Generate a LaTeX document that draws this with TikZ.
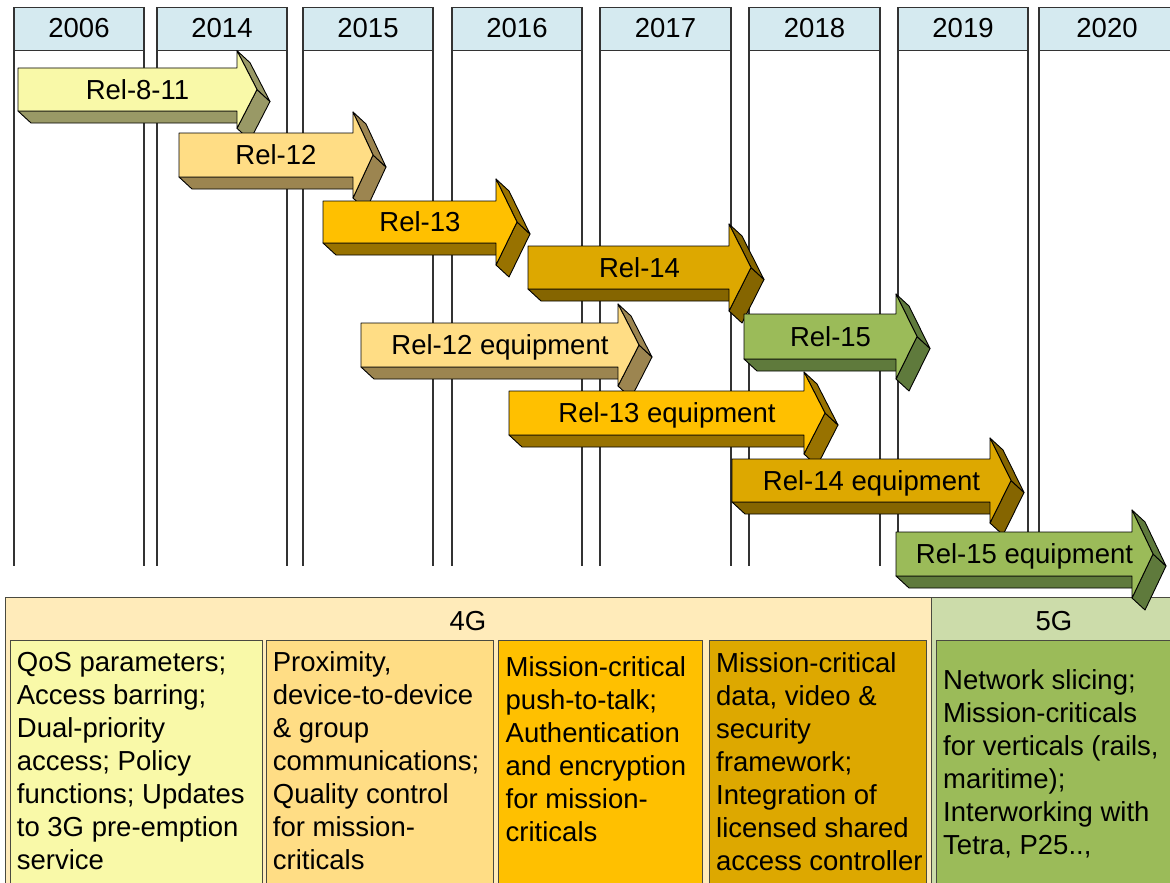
\documentclass[tikz,border=0pt]{standalone}
\usepackage{fontspec}
\setmainfont{Liberation Sans}
\definecolor{hdr}{HTML}{D5EAF0}
\definecolor{aF}{HTML}{F9F9A8}\definecolor{aD}{HTML}{999966}
\definecolor{bF}{HTML}{FFDD85}\definecolor{bD}{HTML}{9C8550}
\definecolor{cF}{HTML}{FFC000}\definecolor{cD}{HTML}{987200}
\definecolor{dF}{HTML}{DDA800}\definecolor{dD}{HTML}{856500}
\definecolor{eF}{HTML}{9BBB59}\definecolor{eD}{HTML}{5F7A3C}
\definecolor{fourG}{HTML}{FFEBBA}
\definecolor{fiveG}{HTML}{CCDCAA}
\definecolor{edgec}{HTML}{4A4A40}
\tikzset{
  coledge/.style={draw=black!80,line width=1.1pt},
  boxedge/.style={draw=edgec,line width=1pt},
  arrowedge/.style={draw=black,line width=0.9pt,line join=round},
  bigtext/.style={font=\fontsize{27.5}{33}\selectfont,inner sep=0pt},
  arrowtext/.style={bigtext,anchor=base},
  boxtext/.style={bigtext,align=left,anchor=north west},
}
\newcommand\relarrow[9]{%
  \pgfmathsetmacro\ryc{(#3+#4)/2}%
  \pgfmathsetmacro\ryhb{2*\ryc-#6}%
  \pgfmathsetmacro\rxm{(#2+#7)/2}%
  \filldraw[arrowedge,fill=#8D] (#2,#4) -- (#5,#4) -- ({#5+13},{#4+12}) -- ({#2+13},{#4+12}) -- cycle;
  \filldraw[arrowedge,fill=#8D] (#7,\ryc) -- (#5,\ryhb) -- ({#5+13},{\ryhb+12}) -- ({#7+13},{\ryc+12}) -- cycle;
  \filldraw[arrowedge,fill=#8D] (#5,#6) -- (#7,\ryc) -- ({#7+13},{\ryc+12}) -- ({#5+13},{#6+12}) -- cycle;
  \filldraw[arrowedge,fill=#8F] (#2,#3) -- (#5,#3) -- (#5,#6) -- (#7,\ryc) -- (#5,\ryhb) -- (#5,#4) -- (#2,#4) -- cycle;
  \node[arrowtext] (#1) at (\rxm,{\ryc+9.8}) {#9};
}
\begin{document}
\begin{tikzpicture}[x=1pt,y=-1pt]
\useasboundingbox (0,0) rectangle (1170,883);
\clip (0,0) rectangle (1170,883);
\fill[white] (0,0) rectangle (1170,883);
% year columns
\foreach \l/\r/\yr/\tx in {14/144/2006/79,157/287/2014/222,303/433/2015/368,452/582/2016/517,600/731/2017/665.5,749/880/2018/814.5,898/1028/2019/963,1039/1178/2020/1107}{
  \filldraw[coledge,fill=hdr] (\l,7.3) rectangle (\r,50.7);
  \draw[coledge] (\l,50.7) -- (\l,566);
  \draw[coledge] (\r,50.7) -- (\r,566);
  \node[arrowtext] (y\yr) at (\tx,37.5) {\yr};
}
% generation boxes
\filldraw[boxedge,fill=fourG] (5,597) rectangle (931,900);
\filldraw[boxedge,fill=fiveG] (931,597) rectangle (1180,900);
\node[arrowtext] (g4) at (468,630) {4G};
\node[arrowtext] (g5) at (1054,630.5) {5G};
\filldraw[boxedge,fill=aF] (10,640) rectangle (262,900);
\filldraw[boxedge,fill=bF] (266,640) rectangle (493,900);
\filldraw[boxedge,fill=cF] (498.5,640) rectangle (702.6,900);
\filldraw[boxedge,fill=dF] (709,640) rectangle (926.5,900);
\filldraw[boxedge,fill=eF] (936,640) rectangle (1180,900);
\node[boxtext] (t1) at (16.7,651.7) {QoS parameters;\\Access barring;\\Dual-priority\\access; Policy\\functions; Updates\\to 3G pre-emption\\service};
\node[boxtext] (t2) at (272.7,651.7) {Proximity,\\device-to-device\\\& group\\communications;\\Quality control\\for mission-\\criticals};
\node[boxtext] (t3) at (505.5,656.7) {Mission-critical\\push-to-talk;\\Authentication\\and encryption\\for mission-\\criticals};
\node[boxtext] (t4) at (716,652.7) {Mission-critical\\data, video \&\\security\\framework;\\Integration of\\licensed shared\\access controller};
\node[boxtext] (t5) at (943,669.3) {Network slicing;\\Mission-criticals\\for verticals (rails,\\maritime);\\Interworking with\\Tetra, P25..,};
% release arrows
\relarrow{r811}{18}{68}{111}{237}{50.7}{257}{a}{Rel-8-11}
\relarrow{r12}{179}{133}{177}{353}{112}{373}{b}{Rel-12}
\relarrow{r13}{323}{201}{243}{496}{179}{517}{c}{Rel-13}
\relarrow{r14}{528}{246}{289}{729}{224}{751}{d}{Rel-14}
\relarrow{r15}{744}{314}{359}{896}{294}{917}{e}{Rel-15}
\relarrow{e12}{361}{323}{367}{618}{304}{639}{b}{Rel-12 equipment}
\relarrow{e13}{509}{391}{435}{804}{372}{825}{c}{Rel-13 equipment}
\relarrow{e14}{732}{459}{502}{990}{438}{1011}{d}{Rel-14 equipment}
\relarrow{e15}{896}{532}{576}{1132}{510}{1153}{e}{Rel-15 equipment}
\end{tikzpicture}
\end{document}
